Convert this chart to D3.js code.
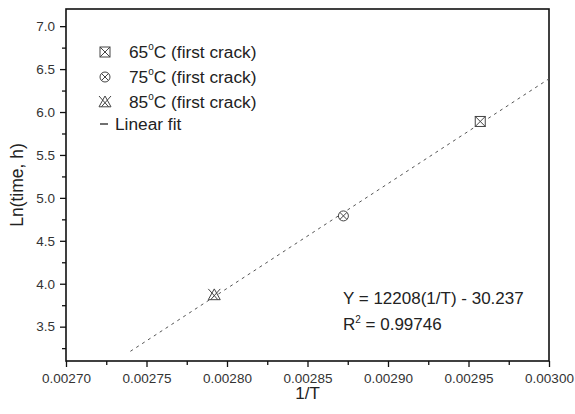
<!DOCTYPE html>
<html>
<head>
<meta charset="utf-8">
<script src="https://cdn.jsdelivr.net/npm/d3@7"></script>
<style>
  body { margin: 0; background: #fff; }
  svg { font-family: "Liberation Sans", Arial, sans-serif; }
</style>
</head>
<body>
<div id="chart"></div>
<script>
// data
var labels = ["65", "75", "85"];
var invT = [0.0029573, 0.0028723, 0.0027921];
var lnTime = [5.89, 4.79, 3.87];
var shapes = ["square", "circle", "triangle"];
var xTicks = [0.00270, 0.00275, 0.00280, 0.00285, 0.00290, 0.00295, 0.00300];
var yTicks = [3.5, 4.0, 4.5, 5.0, 5.5, 6.0, 6.5, 7.0];
var slope = 12208, intercept = -30.237, r2 = "0.99746";
var fitRange = [0.00274, 0.00300];

var W = 575, H = 414;
var pL = 66, pR = 549, pT = 9, pB = 361;

var svg = d3.select("#chart").append("svg")
    .attr("width", W).attr("height", H);

var x = d3.scaleLinear().domain([0.0027, 0.0030]).range([pL, pR]);
var y = d3.scaleLinear().domain([3.1, 7.2]).range([pB, pT]);

// frame
svg.append("rect")
    .attr("x", pL).attr("y", pT)
    .attr("width", pR - pL).attr("height", pB - pT)
    .attr("fill", "none").attr("stroke", "#111").attr("stroke-width", 1.6);

// minor ticks
var xMinor = d3.range(0.002725, 0.0030, 0.00005);
var yMinor = d3.range(3.25, 7.2, 0.5);

var gx = svg.append("g").attr("transform", "translate(0," + pB + ")");
gx.call(d3.axisBottom(x).tickValues(xMinor).tickSize(4).tickFormat(""));
var gx2 = svg.append("g").attr("transform", "translate(0," + pB + ")");
gx2.call(d3.axisBottom(x).tickValues(xTicks).tickSize(6).tickPadding(6).tickFormat(d3.format(".5f")));
svg.selectAll(".domain").remove();
[gx, gx2].forEach(function(g) {
    g.selectAll("line").attr("stroke", "#111").attr("stroke-width", 1.3);
});
gx2.selectAll("text").attr("font-size", 13.5).attr("fill", "#333")
    .attr("font-family", "Liberation Sans, Arial, sans-serif");

var gy = svg.append("g").attr("transform", "translate(" + pL + ",0)");
gy.call(d3.axisLeft(y).tickValues(yMinor).tickSize(4).tickFormat(""));
var gy2 = svg.append("g").attr("transform", "translate(" + pL + ",0)");
gy2.call(d3.axisLeft(y).tickValues(yTicks).tickSize(6).tickPadding(5).tickFormat(d3.format(".1f")));
svg.selectAll(".domain").remove();
[gy, gy2].forEach(function(g) {
    g.selectAll("line").attr("stroke", "#111").attr("stroke-width", 1.3);
});
gy2.selectAll("text").attr("font-size", 13.5).attr("fill", "#333")
    .attr("font-family", "Liberation Sans, Arial, sans-serif");

// axis titles
svg.append("text").attr("x", (pL + pR) / 2).attr("y", 399)
    .attr("text-anchor", "middle").attr("font-size", 17).attr("fill", "#222").text("1/T");
svg.append("text").attr("transform", "translate(23," + ((pT + pB) / 2) + ")rotate(-90)")
    .attr("text-anchor", "middle").attr("font-size", 17.5).attr("fill", "#222").text("Ln(time, h)");

// linear fit
var fitLine = d3.line().x(function(d) { return x(d); })
    .y(function(d) { return y(slope * d + intercept); });
svg.append("path").datum(fitRange)
    .attr("d", fitLine)
    .attr("fill", "none").attr("stroke", "#555").attr("stroke-width", 1)
    .attr("stroke-dasharray", "3,4");

// markers
function marker(g, shape, cx, cy) {
    var s = 5, c = "#444";
    if (shape === "square") {
        g.append("rect").attr("x", cx - s).attr("y", cy - s)
            .attr("width", 2 * s).attr("height", 2 * s)
            .attr("fill", "#fff").attr("stroke", c);
        g.append("path").attr("d", "M" + (cx - s) + "," + (cy - s) + "L" + (cx + s) + "," + (cy + s) +
            "M" + (cx + s) + "," + (cy - s) + "L" + (cx - s) + "," + (cy + s))
            .attr("stroke", c).attr("fill", "none");
    } else if (shape === "circle") {
        g.append("circle").attr("cx", cx).attr("cy", cy).attr("r", s)
            .attr("fill", "#fff").attr("stroke", c);
        var d = s * 0.707;
        g.append("path").attr("d", "M" + (cx - d) + "," + (cy - d) + "L" + (cx + d) + "," + (cy + d) +
            "M" + (cx + d) + "," + (cy - d) + "L" + (cx - d) + "," + (cy + d))
            .attr("stroke", c).attr("fill", "none");
    } else {
        var t = 6;
        g.append("path").attr("d", "M" + cx + "," + (cy - t) + "L" + (cx + t) + "," + (cy + t * 0.8) +
            "L" + (cx - t) + "," + (cy + t * 0.8) + "Z")
            .attr("fill", "#fff").attr("stroke", c);
        g.append("path").attr("d", "M" + (cx - t) + "," + (cy - t) + "L" + (cx + t * 0.6) + "," + (cy + t * 0.8) +
            "M" + (cx + t) + "," + (cy - t) + "L" + (cx - t * 0.6) + "," + (cy + t * 0.8))
            .attr("stroke", c).attr("fill", "none");
    }
}

var pts = svg.append("g").attr("stroke-width", 1);
invT.forEach(function(v, i) {
    marker(pts, shapes[i], x(v), y(lnTime[i]));
});

// legend
var leg = svg.append("g").attr("stroke-width", 1);
var rowY = [52, 77, 102];
labels.forEach(function(l, i) {
    marker(leg, shapes[i], 105, rowY[i]);
    var t = leg.append("text").attr("x", 129).attr("y", rowY[i] + 6)
        .attr("font-size", 17.3).attr("fill", "#222");
    t.append("tspan").text(l);
    t.append("tspan").attr("font-size", 10).attr("dy", -8).text("o");
    t.append("tspan").attr("dy", 8).text("C (first crack)");
});
leg.append("line").attr("x1", 100).attr("x2", 108).attr("y1", 124).attr("y2", 124)
    .attr("stroke", "#222").attr("stroke-width", 1.3);
leg.append("text").attr("x", 115).attr("y", 130).attr("font-size", 17.3)
    .attr("fill", "#222").text("Linear fit");

// equation
svg.append("text").attr("x", 343).attr("y", 304).attr("font-size", 17).attr("fill", "#222")
    .text("Y = " + slope + "(1/T) - " + (-intercept));
var r = svg.append("text").attr("x", 343).attr("y", 330).attr("font-size", 17).attr("fill", "#222");
r.append("tspan").text("R");
r.append("tspan").attr("font-size", 10).attr("dy", -7).text("2");
r.append("tspan").attr("dy", 7).text(" = " + r2);
</script>
</body>
</html>
